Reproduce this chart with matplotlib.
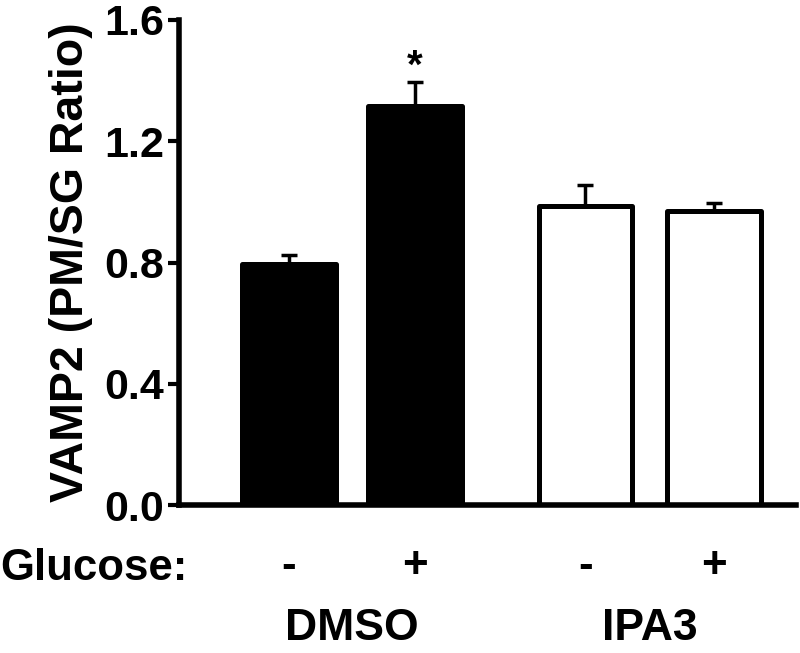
import matplotlib
matplotlib.use("Agg")
import matplotlib.pyplot as plt
from matplotlib.transforms import blended_transform_factory

plt.rcParams['font.family'] = ['Liberation Sans', 'DejaVu Sans']
plt.rcParams['font.weight'] = 'bold'

groups = ["DMSO", "IPA3"]
glucose = ["-", "+", "-", "+"]
values = [0.795, 1.315, 0.985, 0.970]
errors = [0.030, 0.080, 0.070, 0.025]
fills = ["black", "black", "white", "white"]
yticks = [0.0, 0.4, 0.8, 1.2, 1.6]
positions = [0.0, 1.0, 2.35, 3.37]

fig = plt.figure(figsize=(8, 6.53), dpi=100)
ax = fig.add_axes([0.224, 0.2266, 0.771, 0.7428])

bw = 0.74
for x, v, e, f in zip(positions, values, errors, fills):
    ax.bar(x, v, width=bw, color=f, edgecolor="black", linewidth=3.6,
           joinstyle="round", zorder=2)
    ax.errorbar(x, v, yerr=[[0], [e]], fmt="none", ecolor="black",
                elinewidth=2.5, capsize=5.5, capthick=2.5, zorder=1)

ax.text(positions[1], 1.41, "*", ha="center",
        va="baseline", fontsize=29, fontweight="bold")

ax.set_ylim(0, 1.6)
ax.set_xlim(-0.87, 4.02)
ax.set_yticks(yticks)
ax.set_yticklabels([f"{t:.1f}" for t in yticks])
ax.set_xticks([])
for s in ["top", "right"]:
    ax.spines[s].set_visible(False)
for s in ["left", "bottom"]:
    ax.spines[s].set_linewidth(4)
ax.tick_params(axis="y", length=8, width=3, labelsize=31, pad=3)
for lab in ax.get_yticklabels():
    lab.set_fontweight("bold")
ax.set_ylabel("VAMP2 (PM/SG Ratio)", fontsize=33.5, fontweight="bold", labelpad=8)

bt = blended_transform_factory(ax.transData, fig.transFigure)
fig.text(0.0, 1 - 580 / 653, "Glucose:", fontsize=31.5, fontweight="bold",
         ha="left", va="baseline")
for x, g in zip(positions, glucose):
    ax.text(x, 1 - 578 / 653, g, transform=bt, fontsize=31.5,
            fontweight="bold", ha="center", va="baseline")
for i, gname in enumerate(groups):
    cx = (positions[2 * i] + positions[2 * i + 1]) / 2
    ax.text(cx, 1 - 640 / 653, gname, transform=bt,
            fontsize=32, fontweight="bold", ha="center", va="baseline")

fig.savefig("out.png", dpi=100)
